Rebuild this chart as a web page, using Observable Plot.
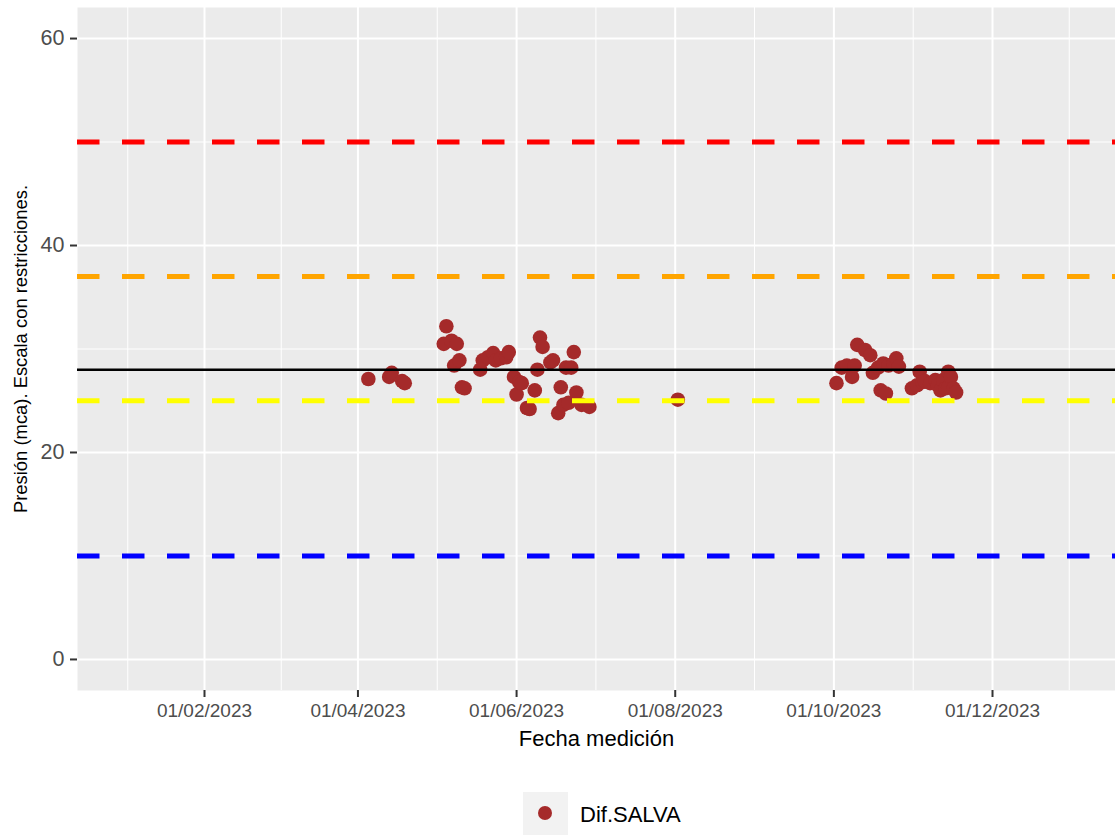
<!DOCTYPE html>
<html>
<head>
<meta charset="utf-8">
<script src="https://cdn.jsdelivr.net/npm/d3@7"></script>
<script src="https://cdn.jsdelivr.net/npm/@observablehq/plot@0.6"></script>
<style>
  html, body { margin: 0; padding: 0; background: #fff; }
  body { width: 1115px; height: 835px; overflow: hidden; font-family: "Liberation Sans", Arial, sans-serif; }
  #legend { position: relative; width: 1115px; height: 75px; }
  #legend .key { position: absolute; left: 523px; top: 32px; width: 45px; height: 43px; background: #F2F2F2; }
  #legend .key span { position: absolute; left: 15px; top: 14px; width: 14px; height: 14px; border-radius: 50%; background: #A52A2A; }
  #legend .lab { position: absolute; left: 580px; top: 42px; font-size: 22px; line-height: 26px; color: #000; }
</style>
</head>
<body>
<div id="chart"></div>
<div id="legend"><div class="key"><span></span></div><div class="lab" id="legendLabel"></div></div>
<script>
// ---- Data ----
const fechas = [
  "2023-04-05","2023-04-13","2023-04-14","2023-04-18","2023-04-19",
  "2023-05-04","2023-05-05","2023-05-07","2023-05-08","2023-05-09","2023-05-10","2023-05-11","2023-05-12",
  "2023-05-18","2023-05-19","2023-05-21","2023-05-23","2023-05-24","2023-05-26","2023-05-28","2023-05-29","2023-05-31",
  "2023-06-01","2023-06-02","2023-06-03","2023-06-05","2023-06-06","2023-06-08","2023-06-09","2023-06-10","2023-06-11",
  "2023-06-14","2023-06-15","2023-06-17","2023-06-18","2023-06-19","2023-06-20","2023-06-21","2023-06-22","2023-06-23",
  "2023-06-24","2023-06-26","2023-06-29",
  "2023-08-02",
  "2023-10-02","2023-10-04","2023-10-06","2023-10-08","2023-10-09","2023-10-10","2023-10-13","2023-10-15","2023-10-16",
  "2023-10-18","2023-10-19","2023-10-20","2023-10-21","2023-10-22","2023-10-24","2023-10-25","2023-10-26","2023-10-31",
  "2023-11-02","2023-11-03","2023-11-04","2023-11-05","2023-11-07","2023-11-09","2023-11-10","2023-11-11","2023-11-12",
  "2023-11-13","2023-11-14","2023-11-14","2023-11-15","2023-11-16","2023-11-17"
];
const presion = [
  27.1, 27.3, 27.7, 26.9, 26.7,
  30.5, 32.2, 30.8, 28.4, 30.5, 28.9, 26.3, 26.2,
  28.0, 28.9, 29.2, 29.6, 28.9, 29.1, 29.2, 29.7, 27.3,
  25.6, 26.8, 26.7, 24.3, 24.2, 26.0, 28.0, 31.1, 30.2,
  28.7, 28.9, 23.8, 26.3, 24.6, 28.2, 24.8, 28.2, 29.7,
  25.8, 24.6, 24.4,
  25.1,
  26.7, 28.2, 28.4, 27.3, 28.4, 30.4, 29.9, 29.4, 27.7,
  28.2, 26.0, 28.6, 25.7, 28.4, 28.6, 29.1, 28.3, 26.2,
  26.5, 27.8, 26.8, 26.9, 26.7, 27.0, 26.5, 26.0, 27.0,
  26.2, 27.8, 26.3, 27.3, 26.2, 25.8
];
const serieNombre = "Dif.SALVA";
const umbrales = [50, 37, 25, 10];
const umbralColores = ["#FF0000", "#FFA500", "#FFFF00", "#0000FF"];
const referencia = [28];
const xTicks = ["2023-02-01","2023-04-01","2023-06-01","2023-08-01","2023-10-01","2023-12-01"];
const yTicks = [0, 20, 40, 60];
const yMinor = [10, 30, 50];
const xDomain = ["2022-12-14T04:00:00Z", "2024-01-17T07:00:00Z"];
const yDomain = [-3, 63];
const xTitulo = "Fecha medición";
const yTitulo = "Presión (mca). Escala con restricciones.";

// ---- Build ----
const datos = fechas.map((f, i) => ({fecha: new Date(f + "T00:00:00Z"), valor: presion[i]}));
const lineas = umbrales.map((v, i) => ({v, c: umbralColores[i]}));
const majorX = xTicks.map(s => new Date(s + "T00:00:00Z"));
// ggplot-style minor breaks: midpoints between majors (extended by first interval)
const step = majorX[1] - majorX[0];
const ext = [new Date(+majorX[0] - step), ...majorX, new Date(+majorX[majorX.length - 1] + step)];
const minorX = [];
for (let i = 0; i < ext.length - 1; i++) minorX.push(new Date((+ext[i] + +ext[i + 1]) / 2));

const fmt = d3.utcFormat("%d/%m/%Y");

const chart = Plot.plot({
  width: 1115,
  height: 760,
  marginLeft: 77,
  marginRight: 0,
  marginTop: 7,
  marginBottom: 70,
  style: {background: "transparent", fontFamily: "'Liberation Sans', Arial, sans-serif", overflow: "visible"},
  x: {type: "utc", domain: xDomain.map(s => new Date(s)), label: null},
  y: {domain: yDomain, label: null},
  color: {type: "identity"},
  marks: [
    Plot.frame({fill: "#EBEBEB", stroke: null}),
    Plot.ruleX(minorX, {x: d => d, stroke: "white", strokeWidth: 1}),
    Plot.ruleY(yMinor, {y: d => d, stroke: "white", strokeWidth: 1}),
    Plot.ruleX(majorX, {x: d => d, stroke: "white", strokeWidth: 2}),
    Plot.ruleY(yTicks, {y: d => d, stroke: "white", strokeWidth: 2}),
    Plot.dot(datos, {x: "fecha", y: "valor", r: 7.3, fill: "#A52A2A", stroke: null}),
    Plot.ruleY(lineas, {y: "v", stroke: "c", strokeWidth: 5, strokeDasharray: "22.5,22.5"}),
    Plot.ruleY(referencia, {y: d => d, stroke: "#000", strokeWidth: 2.5}),
    Plot.axisX({ticks: majorX, tickFormat: fmt, tickSize: 7, tickPadding: 6, fontSize: 19,
                stroke: "#333333", strokeWidth: 2, fill: "#4D4D4D", label: null}),
    Plot.axisY({ticks: yTicks, tickSize: 7, tickPadding: 6, fontSize: 21.5,
                stroke: "#333333", strokeWidth: 2, fill: "#4D4D4D", label: null}),
    Plot.text([xTitulo], {text: d => d, frameAnchor: "bottom", lineAnchor: "middle", dy: 48, fontSize: 22, fill: "#000"}),
    Plot.text([yTitulo], {text: d => d, frameAnchor: "left", textAnchor: "middle", lineAnchor: "middle", dx: -56, rotate: -90, fontSize: 18.4, fill: "#000"})
  ]
});
document.getElementById("chart").appendChild(chart);
document.getElementById("legendLabel").textContent = serieNombre;
</script>
</body>
</html>
